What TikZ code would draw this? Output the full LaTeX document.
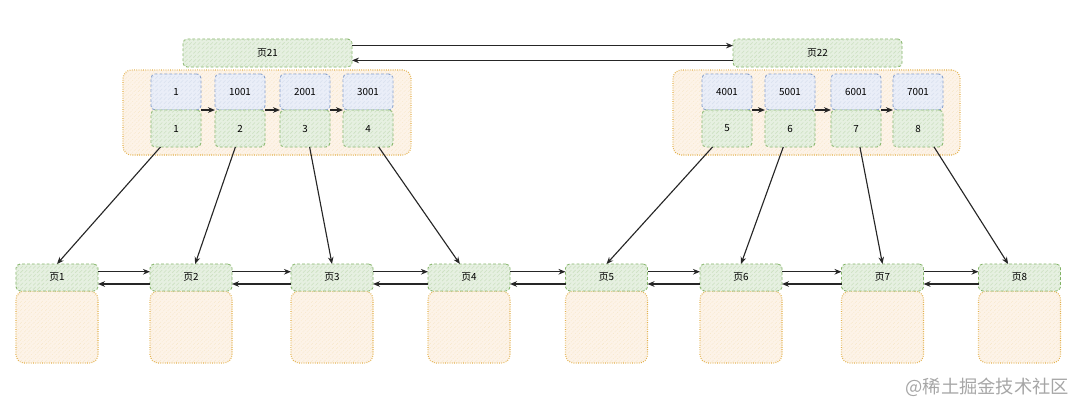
\documentclass[tikz,border=0pt]{standalone}
\usepackage{fontspec}
\newfontfamily\cjk{Noto Sans CJK SC}
\usetikzlibrary{patterns,arrows.meta}

\definecolor{greenfill}{HTML}{E6F0E1}
\definecolor{greenline}{HTML}{82B366}
\definecolor{bluefill}{HTML}{EAEEF8}
\definecolor{blueline}{HTML}{7F9BCB}
\definecolor{orangefill}{HTML}{FDF3E8}
\definecolor{orangeline}{HTML}{E3B04B}

\tikzset{
  box/.style={inner sep=0pt, outer sep=0pt, rounded corners=3pt,
    font=\cjk\fontsize{7}{8}\selectfont, line width=0.6pt},
  greenbox/.style={box, draw=greenline, fill=greenfill, dash pattern=on 2pt off 1.5pt,
    postaction={pattern=north east lines, pattern color=greenline!40}},
  bluebox/.style={box, draw=blueline, fill=bluefill, dash pattern=on 2pt off 1.5pt,
    postaction={pattern=north east lines, pattern color=blueline!30}},
  databox/.style={box, draw=orangeline, fill=orangefill, densely dotted, line width=0.8pt,
    rounded corners=6pt,
    postaction={pattern=north east lines, pattern color=orangeline!30}},
  link/.style={-{Stealth[length=5pt,width=4pt]}, line width=0.8pt, draw=black!85},
}

\begin{document}
\begin{tikzpicture}[x=0.25mm,y=-0.25mm]

\useasboundingbox (0,0) rectangle (1080,407);

%%%%%%%%%%%%%%%%%%%%%%%%%%%%%%%%%%%%%%%%%%%%%%%%%%
% Upper level
%%%%%%%%%%%%%%%%%%%%%%%%%%%%%%%%%%%%%%%%%%%%%%%%%%

% Containers
\node[databox, minimum width=72mm, minimum height=21.25mm] (c1) at (267,112.5) {};
\node[databox, minimum width=71.75mm, minimum height=21.25mm] (c2) at (816.5,112.5) {};

% Page headers
\node[greenbox, minimum width=42.25mm, minimum height=7mm] (t1) at (267.5,53) {页21};
\node[greenbox, minimum width=42.25mm, minimum height=7mm] (t2) at (817.5,53) {页22};

% Keys and pointers
\foreach \x/\key/\ptr/\i in {176/1/1/1, 240/1001/2/2, 305/2001/3/3, 368/3001/4/4,
                             727/4001/5/5, 790/5001/6/6, 856/6001/7/7, 918/7001/8/8}
{
  \node[bluebox, minimum width=12.5mm, minimum height=9mm] (k\i) at (\x,92) {\key};
  \node[greenbox, minimum width=12.5mm, minimum height=9.25mm] (p\i) at (\x,128.5) {\ptr};
}

% Key order
\draw[link] (k1.south east) -- (k2.south west);
\draw[link] (k2.south east) -- (k3.south west);
\draw[link] (k3.south east) -- (k4.south west);
\draw[link] (k5.south east) -- (k6.south west);
\draw[link] (k6.south east) -- (k7.south west);
\draw[link] (k7.south east) -- (k8.south west);

% Sibling links
\draw[link] (t1.5) -- (t2.175);
\draw[link] (t2.185) -- (t1.-5);

%%%%%%%%%%%%%%%%%%%%%%%%%%%%%%%%%%%%%%%%%%%%%%%%%%
% Leaf pages
%%%%%%%%%%%%%%%%%%%%%%%%%%%%%%%%%%%%%%%%%%%%%%%%%%

\foreach \x/\i in {57/1, 191/2, 332/3, 469/4, 606.5/5, 741/6, 882.5/7, 1019.5/8}
{
  \node[databox, minimum width=20.5mm, minimum height=18mm] (d\i) at (\x,327) {};
  \node[greenbox, minimum width=20.5mm, minimum height=6.75mm] (h\i) at (\x,277.5) {页\i};
}

% Neighbour links
\foreach \a/\b in {1/2, 2/3, 3/4, 4/5, 5/6, 6/7, 7/8}
{
  \draw[link] (h\a.8) -- (h\b.172);
  \draw[link] (h\b.189) -- (h\a.-9);
}

% Pointers to pages
\draw[link] (p1.230) -- (h1.north);
\draw[link] (p2.256) -- (h2.73);
\draw[link] (p3.284) -- (h3.north);
\draw[link] (p4.300) -- (h4.124);
\draw[link] (p5.232) -- (h5.north);
\draw[link] (p6.250) -- (h6.north);
\draw[link] (p7.282) -- (h7.north);
\draw[link] (p8.311) -- (h8.130);

% Watermark
\node[text=black!35, font=\cjk\fontsize{13}{14}\selectfont, anchor=east] (mark) at (1074,387) {@稀土掘金技术社区};

\end{tikzpicture}
\end{document}
